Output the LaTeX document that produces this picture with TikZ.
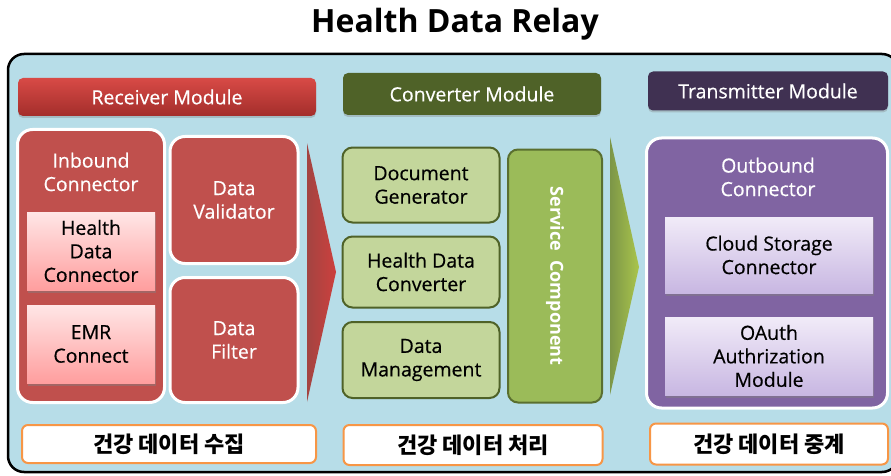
\documentclass[tikz,border=0pt]{standalone}
\usepackage{fontspec}
\setmainfont{Open Sans}
\newfontfamily\bodyfont{Open Sans}[FakeBold=0.45]
\newfontfamily\krfont{Noto Sans CJK KR}
\usepackage{tikz}
\usetikzlibrary{shadows}

\definecolor{relaybg}{HTML}{B7DDE8}
\definecolor{recvred}{HTML}{C0504D}
\definecolor{recvtop}{HTML}{D84A46}
\definecolor{recvbot}{HTML}{A32E2B}
\definecolor{pinktop}{HTML}{FFE6E6}
\definecolor{pinkbot}{HTML}{FF9E9E}
\definecolor{convolive}{HTML}{4F6228}
\definecolor{convlight}{HTML}{C3D69B}
\definecolor{convmid}{HTML}{9BBB59}
\definecolor{transdark}{HTML}{403152}
\definecolor{transpurple}{HTML}{8064A2}
\definecolor{liltop}{HTML}{F1EBF8}
\definecolor{lilbot}{HTML}{C8B7E2}
\definecolor{tagorange}{HTML}{F79646}

\begin{document}
\begin{tikzpicture}[
  x=1pt, y=-1pt,
  header/.style={rounded corners=5pt, inner sep=0pt, text=white,
    font=\bodyfont\fontsize{19.5}{23}\selectfont,
    drop shadow={shadow xshift=0pt, shadow yshift=-2pt, opacity=.35}},
  panel/.style={draw=white, line width=3pt, rounded corners=15pt,
    inner sep=0pt},
  inner/.style={inner sep=0pt, align=center,
    font=\bodyfont\fontsize{19.5}{23.5}\selectfont,
    drop shadow={shadow xshift=1pt, shadow yshift=-3pt, opacity=.45}},
  greenbox/.style={draw=convolive, line width=2pt, fill=convlight,
    rounded corners=10pt, inner sep=0pt, align=center,
    font=\bodyfont\fontsize{19.5}{23.5}\selectfont},
  tag/.style={draw=tagorange, line width=2pt, fill=white,
    rounded corners=6pt, inner sep=0pt,
    font=\krfont\bfseries\fontsize{22}{24}\selectfont},
  lbl/.style={text=white, align=center,
    font=\bodyfont\fontsize{19.5}{23.5}\selectfont},
]
  \useasboundingbox (0,0) rectangle (891,476);

  % Title
  \node[font=\bfseries\fontsize{32}{36}\selectfont] (title) at (455,24)
    {Health Data Relay};

  % Outer frame (runs on past the right edge)
  \draw[line width=2.5pt, fill=relaybg, rounded corners=16pt]
    (8,54) rectangle (898,472);

  % Module headers
  \node[header, top color=recvtop, bottom color=recvbot,
    minimum width=298pt, minimum height=38pt] (recv) at (167,97)
    {Receiver\ Module};
  \node[header, fill=convolive, minimum width=258pt, minimum height=42pt]
    (conv) at (472,94) {Converter Module};
  \node[header, fill=transdark, minimum width=240pt, minimum height=39pt]
    (trans) at (768,91) {Transmitter\ Module};

  % Receiver module
  \node[panel, fill=recvred, minimum width=147pt, minimum height=273pt]
    (inbound) at (91,266) {};
  \node[lbl] (inboundlbl) at (91,172) {Inbound\\Connector};
  \node[inner, top color=pinktop, bottom color=pinkbot,
    minimum width=128pt, minimum height=78pt] (hdc) at (91,251)
    {Health\\Data\\Connector};
  \node[inner, top color=pinktop, bottom color=pinkbot,
    minimum width=128pt, minimum height=78pt] (emr) at (91,344)
    {EMR\\Connect};
  \node[panel, fill=recvred, lbl, minimum width=128pt, minimum height=127pt]
    (validator) at (234,200) {Data\\Validator};
  \node[panel, fill=recvred, lbl, minimum width=128pt, minimum height=125pt]
    (filter) at (234,340) {Data\\Filter};

  % Converter module
  \node[greenbox, minimum width=157pt, minimum height=75pt]
    (docgen) at (421,185) {Document\\Generator};
  \node[greenbox, minimum width=157pt, minimum height=71pt]
    (hdconv) at (421,272) {Health Data\\Converter};
  \node[greenbox, minimum width=157pt, minimum height=76pt]
    (datamgmt) at (421,360) {Data\\Management};
  \node[greenbox, fill=convmid, draw=convolive!85!convmid, rotate=-90,
    minimum width=253pt, minimum height=94pt, text=white,
    font=\bfseries\fontsize{18}{20}\selectfont]
    (service) at (555,276) {Service\ \ Component};

  % Transmitter module
  \node[panel, fill=transpurple, minimum width=241pt, minimum height=270pt]
    (outbound) at (767,273) {};
  \node[lbl] (outboundlbl) at (768,177) {Outbound\\Connector};
  \node[inner, top color=liltop, bottom color=lilbot,
    minimum width=208pt, minimum height=76pt] (cloud) at (769,255)
    {Cloud Storage\\Connector};
  \node[inner, top color=liltop, bottom color=lilbot,
    minimum width=208pt, minimum height=78pt] (oauth) at (769,356)
    {OAuth\\Authrization\\Module};

  % Flow arrows between modules
  \shade[left color=recvred!85!black, right color=recvred!80!red]
    (307,143) -- (336,272) -- (307,402) -- cycle;
  \shade[left color=convmid!80!black, right color=convmid!85!yellow]
    (610,137) -- (639,267) -- (610,395) -- cycle;

  % Korean captions
  \node[tag, minimum width=294pt, minimum height=38pt] (collect) at (169,444)
    {건강 데이터 수집};
  \node[tag, minimum width=259pt, minimum height=40pt] (process) at (473,445)
    {건강 데이터 처리};
  \node[tag, minimum width=238pt, minimum height=41pt] (relay) at (769,444)
    {건강 데이터 중계};
\end{tikzpicture}
\end{document}
